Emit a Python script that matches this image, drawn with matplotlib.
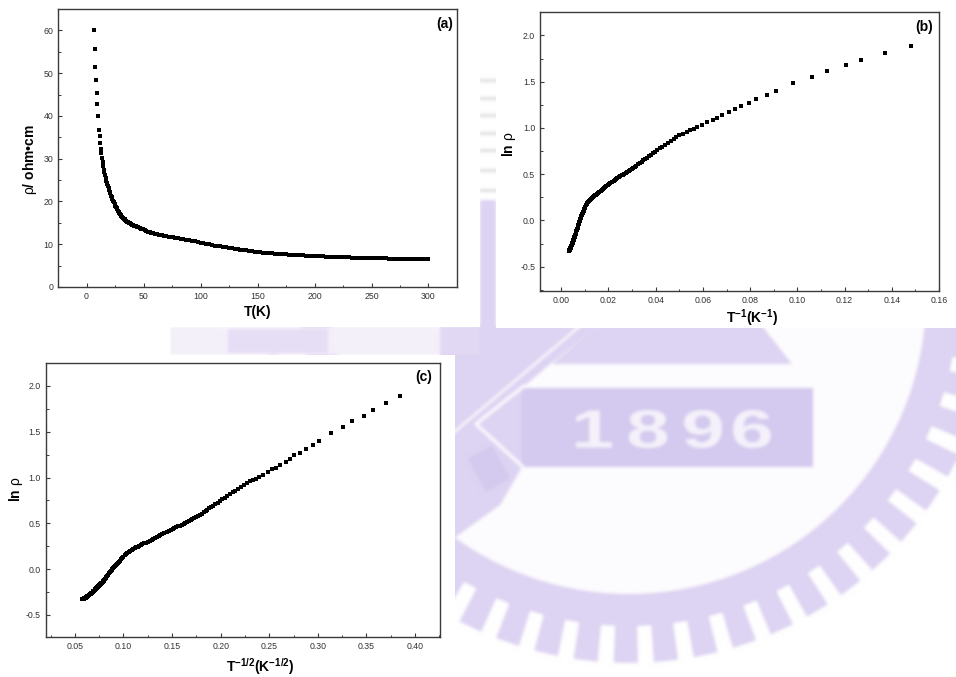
import numpy as np
import matplotlib
matplotlib.use("Agg")
import matplotlib.pyplot as plt
from matplotlib.patches import Rectangle, Polygon, Circle, PathPatch
from matplotlib.textpath import TextPath
from matplotlib.font_manager import FontProperties
from matplotlib.transforms import Affine2D
from matplotlib.ticker import MultipleLocator, FormatStrFormatter

plt.rcParams["font.family"] = ["Liberation Sans", "DejaVu Sans"]
plt.rcParams["mathtext.fontset"] = "custom"
plt.rcParams["mathtext.rm"] = "Liberation Sans"
plt.rcParams["mathtext.bf"] = "Liberation Sans:bold"
plt.rcParams["mathtext.it"] = "Liberation Sans:italic"

# ---------------------------------------------------------------- data
# temperature (K)
T = [6.76, 7.30, 7.87, 8.30, 8.90, 9.40, 10.2, 11.0, 11.45, 12.1, 12.6, 13.15,
     13.6, 14.05, 14.7, 15.2, 15.6, 16.15, 16.8, 17.4, 17.85, 18.3, 18.8, 19.4,
     20.0, 20.5,
     21.0, 21.6, 22.2, 22.8, 23.4, 24.0, 24.6, 25.2, 25.8, 26.4, 27.0, 27.6,
     28.2, 28.8, 29.4, 30.0, 30.7, 31.4, 32.1, 32.8, 33.5, 34.2, 35.0, 35.8,
     36.6, 37.4, 38.2, 39.0, 40.0, 41.0, 42.0, 43.0, 44.0, 45.0,
     46.5, 48.0, 49.5, 51.0, 52.5, 54.0, 55.5, 57.0, 58.5, 60.0, 62.0, 64.0,
     66.0, 68.0, 70.0, 72.0, 74.0, 76.0, 78.0, 80.0,
     82.5, 85.0, 87.5, 90.0, 92.5, 95.0, 97.5, 100.0,
     102.5, 105.0, 107.5, 110.0, 112.5, 115.0, 117.5, 120.0, 122.5, 125.0,
     127.5, 130.0, 132.5, 135.0, 137.5, 140.0, 142.5, 145.0, 147.5, 150.0,
     152.5, 155.0, 157.5, 160.0, 162.5, 165.0, 167.5, 170.0, 172.5, 175.0,
     177.5, 180.0, 182.5, 185.0, 187.5, 190.0, 192.5, 195.0, 197.5, 200.0,
     202.5, 205.0, 207.5, 210.0, 212.5, 215.0, 217.5, 220.0, 222.5, 225.0,
     227.5, 230.0, 232.5, 235.0, 237.5, 240.0, 242.5, 245.0, 247.5, 250.0,
     252.5, 255.0, 257.5, 260.0, 262.5, 265.0, 267.5, 270.0, 272.5, 275.0,
     277.5, 280.0, 282.5, 285.0, 287.5, 290.0, 292.5, 295.0, 297.5, 300.0]

# ln of the resistivity (in units of rho_ref)
ln_rho = [1.891, 1.813, 1.734, 1.676, 1.612, 1.551, 1.486, 1.400, 1.360, 1.310,
          1.270, 1.241, 1.205, 1.173, 1.137, 1.108, 1.090, 1.061, 1.029, 1.007,
          0.989, 0.975, 0.957, 0.939, 0.921, 0.899,
          0.880, 0.858, 0.838, 0.818, 0.798, 0.779, 0.760, 0.742, 0.725, 0.709,
          0.693, 0.677, 0.662, 0.648, 0.634, 0.621, 0.606, 0.592, 0.579, 0.566,
          0.554, 0.542, 0.533, 0.523, 0.513, 0.504, 0.495, 0.486, 0.476, 0.466,
          0.457, 0.448, 0.439, 0.431,
          0.418, 0.406, 0.394, 0.382, 0.370, 0.358, 0.347, 0.338, 0.329, 0.320,
          0.310, 0.300, 0.290, 0.280, 0.270, 0.262, 0.254, 0.246, 0.238, 0.230,
          0.220, 0.209, 0.199, 0.188, 0.177, 0.163, 0.149, 0.135,
          0.121, 0.107, 0.092, 0.078, 0.067, 0.055, 0.044, 0.033, 0.021, 0.010,
          -0.002, -0.013, -0.025, -0.037, -0.048, -0.060, -0.070, -0.079, -0.089, -0.099,
          -0.109, -0.118, -0.128, -0.135, -0.141, -0.147, -0.153, -0.159, -0.165, -0.171,
          -0.177, -0.183, -0.189, -0.195, -0.201, -0.206, -0.210, -0.215, -0.220, -0.225,
          -0.229, -0.234, -0.239, -0.244, -0.248, -0.253, -0.257, -0.260, -0.263, -0.265,
          -0.268, -0.271, -0.274, -0.277, -0.280, -0.283, -0.286, -0.289, -0.291, -0.294,
          -0.296, -0.299, -0.301, -0.304, -0.306, -0.309, -0.311, -0.314, -0.316, -0.318,
          -0.320, -0.321, -0.322, -0.323, -0.324, -0.325, -0.327, -0.328, -0.329, -0.330]

rho_ref = 9.07  # ohm-cm

T_arr = np.array(T)
ln_arr = np.array(ln_rho)
rho = rho_ref * np.exp(ln_arr)
inv_T = 1.0 / T_arr
inv_sqrt_T = T_arr ** -0.5

W, H = 956, 677

# ---------------------------------------------------------------- emblem layer
wm = plt.figure(figsize=(W / 100, H / 100), dpi=100)
wm.patch.set_facecolor("white")
wax = wm.add_axes([0, 0, 1, 1])
wax.set_xlim(0, W)
wax.set_ylim(H, 0)
wax.axis("off")

LAV = "#ddd3f2"
LAV2 = "#d4c9ee"
WHITE = "#fdfcfe"
cx, cy = 629, 297

for ang in np.arange(-4, 200, 6.3):
    a0, a1 = np.radians(ang - 1.9), np.radians(ang + 1.9)
    pts = [(cx + r * np.cos(a), cy + r * np.sin(a))
           for r, a in [(320, a0), (366, a0), (366, a1), (320, a1)]]
    wax.add_patch(Polygon(pts, closed=True, fc=LAV, ec="none", zorder=1))
wax.add_patch(Circle((cx, cy), 329, fc=LAV, ec="none", zorder=1))
wax.add_patch(Circle((cx, cy), 297, fc=WHITE, ec="none", zorder=2))
wax.add_patch(Polygon([(440, 326), (598, 326), (550, 364), (522, 388), (522, 467),
                       (500, 505), (440, 548)], closed=True, fc=LAV, ec="none", zorder=3))
wax.plot([452, 580], [434, 326], color=WHITE, lw=1.8, zorder=4)
wax.plot([524, 476, 522], [386, 424, 466], color=WHITE, lw=2.4, zorder=4)
wax.add_patch(Polygon([(468, 458), (492, 446), (510, 478), (486, 492)], closed=True,
                      fc=LAV2, ec="none", zorder=4))
wax.add_patch(Polygon([(552, 364), (792, 364), (762, 326), (598, 326)], closed=True,
                      fc=LAV, ec="none", zorder=3))
wax.add_patch(Rectangle((522, 388), 291, 79, fc=LAV2, ec="none", zorder=3))
fp = FontProperties(family="Liberation Sans", weight="bold")
for ch, xc in zip("1896", [594, 648, 703, 752]):
    tp = TextPath((0, 0), ch, size=1, prop=fp)
    ext = tp.get_extents()
    tr = (Affine2D().translate(-(ext.x0 + ext.x1) / 2, -(ext.y0 + ext.y1) / 2)
          .scale(78, -54).translate(xc, 429))
    wax.add_patch(PathPatch(tr.transform_path(tp), fc="#f5f2fb", ec="none", zorder=4))

# gap between the panels
wax.add_patch(Rectangle((170, 327), 310, 28, fc="#f4f0fa", ec="none", zorder=5))
wax.add_patch(Rectangle((228, 329), 100, 24, fc="#e6def5", ec="none", zorder=6))
wax.add_patch(Rectangle((440, 327), 40, 28, fc="#e2d9f4", ec="none", zorder=6))
wax.add_patch(Rectangle((480, 200), 16, 130, fc=LAV, ec="none", zorder=5))
wax.add_patch(Rectangle((476, 0), 24, 200, fc="white", ec="none", zorder=5))
for yy in [80, 98, 115, 133, 150, 170, 190]:
    wax.plot([480, 496], [yy, yy], color="#d8d8d8", lw=1.8, zorder=6)

wm.canvas.draw()
layer = np.asarray(wm.canvas.buffer_rgba())[..., :3].astype(float) / 255.0
plt.close(wm)


def soften(a, s):
    r = int(3 * s) + 1
    k = np.exp(-0.5 * (np.arange(-r, r + 1) / s) ** 2)
    k /= k.sum()
    h, w = a.shape[:2]
    p = np.pad(a, ((r, r), (r, r), (0, 0)), mode="edge")
    v = sum(wt * p[i:i + h, :, :] for i, wt in enumerate(k))
    return sum(wt * v[:, i:i + w, :] for i, wt in enumerate(k))


layer = np.clip(soften(layer, 1.6), 0, 1)

# ---------------------------------------------------------------- figure
fig = plt.figure(figsize=(W / 100, H / 100), dpi=100)
fig.patch.set_facecolor("white")
bg = fig.add_axes([0, 0, 1, 1], zorder=0)
bg.imshow(layer, extent=(0, W, H, 0), interpolation="bilinear", zorder=1)
bg.set_xlim(0, W)
bg.set_ylim(H, 0)
bg.axis("off")
for (x0, y0, w, h) in [(0, 0, 480, 327), (496, 0, 460, 328), (0, 355, 455, 322),
                       (0, 327, 170, 28)]:
    bg.add_patch(Rectangle((x0, y0), w, h, fc="white", ec="none", zorder=7))


def px_axes(left, top, right, bottom):
    return fig.add_axes([left / W, (H - bottom) / H, (right - left) / W,
                         (bottom - top) / H], zorder=2)


def style(ax, xmaj, xmin, ymaj, ymin, xfmt, yfmt):
    for sp in ax.spines.values():
        sp.set_color("#3a3a3a")
        sp.set_linewidth(1.0)
    ax.xaxis.set_major_locator(MultipleLocator(xmaj))
    ax.xaxis.set_minor_locator(MultipleLocator(xmin))
    ax.yaxis.set_major_locator(MultipleLocator(ymaj))
    ax.yaxis.set_minor_locator(MultipleLocator(ymin))
    ax.xaxis.set_major_formatter(FormatStrFormatter(xfmt))
    ax.yaxis.set_major_formatter(FormatStrFormatter(yfmt))
    ax.tick_params(which="both", direction="in", top=False, right=False,
                   colors="#3a3a3a", labelcolor="#333333", labelsize=6.3, pad=3.5)
    ax.tick_params(which="major", length=3.2, width=0.8)
    ax.tick_params(which="minor", length=1.8, width=0.7)


mk = dict(ls="none", marker="s", ms=2.9, mfc="black", mec="black", mew=0)
lab = dict(fontsize=10, fontweight="bold")

# (a) resistivity vs temperature
axa = px_axes(58, 9, 457, 287)
axa.plot(T_arr, rho, **mk)
axa.set_xlim(-25, 325)
axa.set_ylim(0, 65)
style(axa, 50, 25, 10, 5, "%d", "%d")
axa.set_xlabel("T(K)", va="center", **lab)
axa.set_ylabel(r"$\mathrm{\rho}$/ ohm•cm", va="center", **lab)
axa.xaxis.set_label_coords(0.501, -0.09)
axa.yaxis.set_label_coords(-0.070, 0.46)
axa.text(0.990, 0.971, "(a)", transform=axa.transAxes, ha="right", va="top", **lab)

# (b) ln rho vs 1/T
axb = px_axes(540, 12.3, 939, 290.7)
axb.plot(inv_T, ln_arr, **mk)
axb.set_xlim(-0.009, 0.160)
axb.set_ylim(-0.76, 2.25)
style(axb, 0.02, 0.01, 0.5, 0.25, "%.2f", "%.1f")
axb.set_xlabel(r"T$^{\mathbf{-1}}$(K$^{\mathbf{-1}}$)", va="center", **lab)
axb.set_ylabel(r"ln $\mathrm{\rho}$", va="center", **lab)
axb.xaxis.set_label_coords(0.531, -0.098)
axb.yaxis.set_label_coords(-0.078, 0.527)
axb.text(0.984, 0.972, "(b)", transform=axb.transAxes, ha="right", va="top", **lab)

# (c) ln rho vs T^-1/2
axc = px_axes(45.7, 362.7, 440, 637.3)
axc.plot(inv_sqrt_T, ln_arr, **mk)
axc.set_xlim(0.02, 0.4257)
axc.set_ylim(-0.745, 2.254)
style(axc, 0.05, 0.025, 0.5, 0.25, "%.2f", "%.1f")
axc.set_xlabel(r"T$^{\mathbf{-1/2}}$(K$^{\mathbf{-1/2}}$)", va="center", **lab)
axc.set_ylabel(r"ln $\mathrm{\rho}$", va="center", **lab)
axc.xaxis.set_label_coords(0.5435, -0.108)
axc.yaxis.set_label_coords(-0.075, 0.539)
axc.text(0.980, 0.973, "(c)", transform=axc.transAxes, ha="right", va="top", **lab)

fig.savefig("out.png", dpi=100, facecolor="white")
